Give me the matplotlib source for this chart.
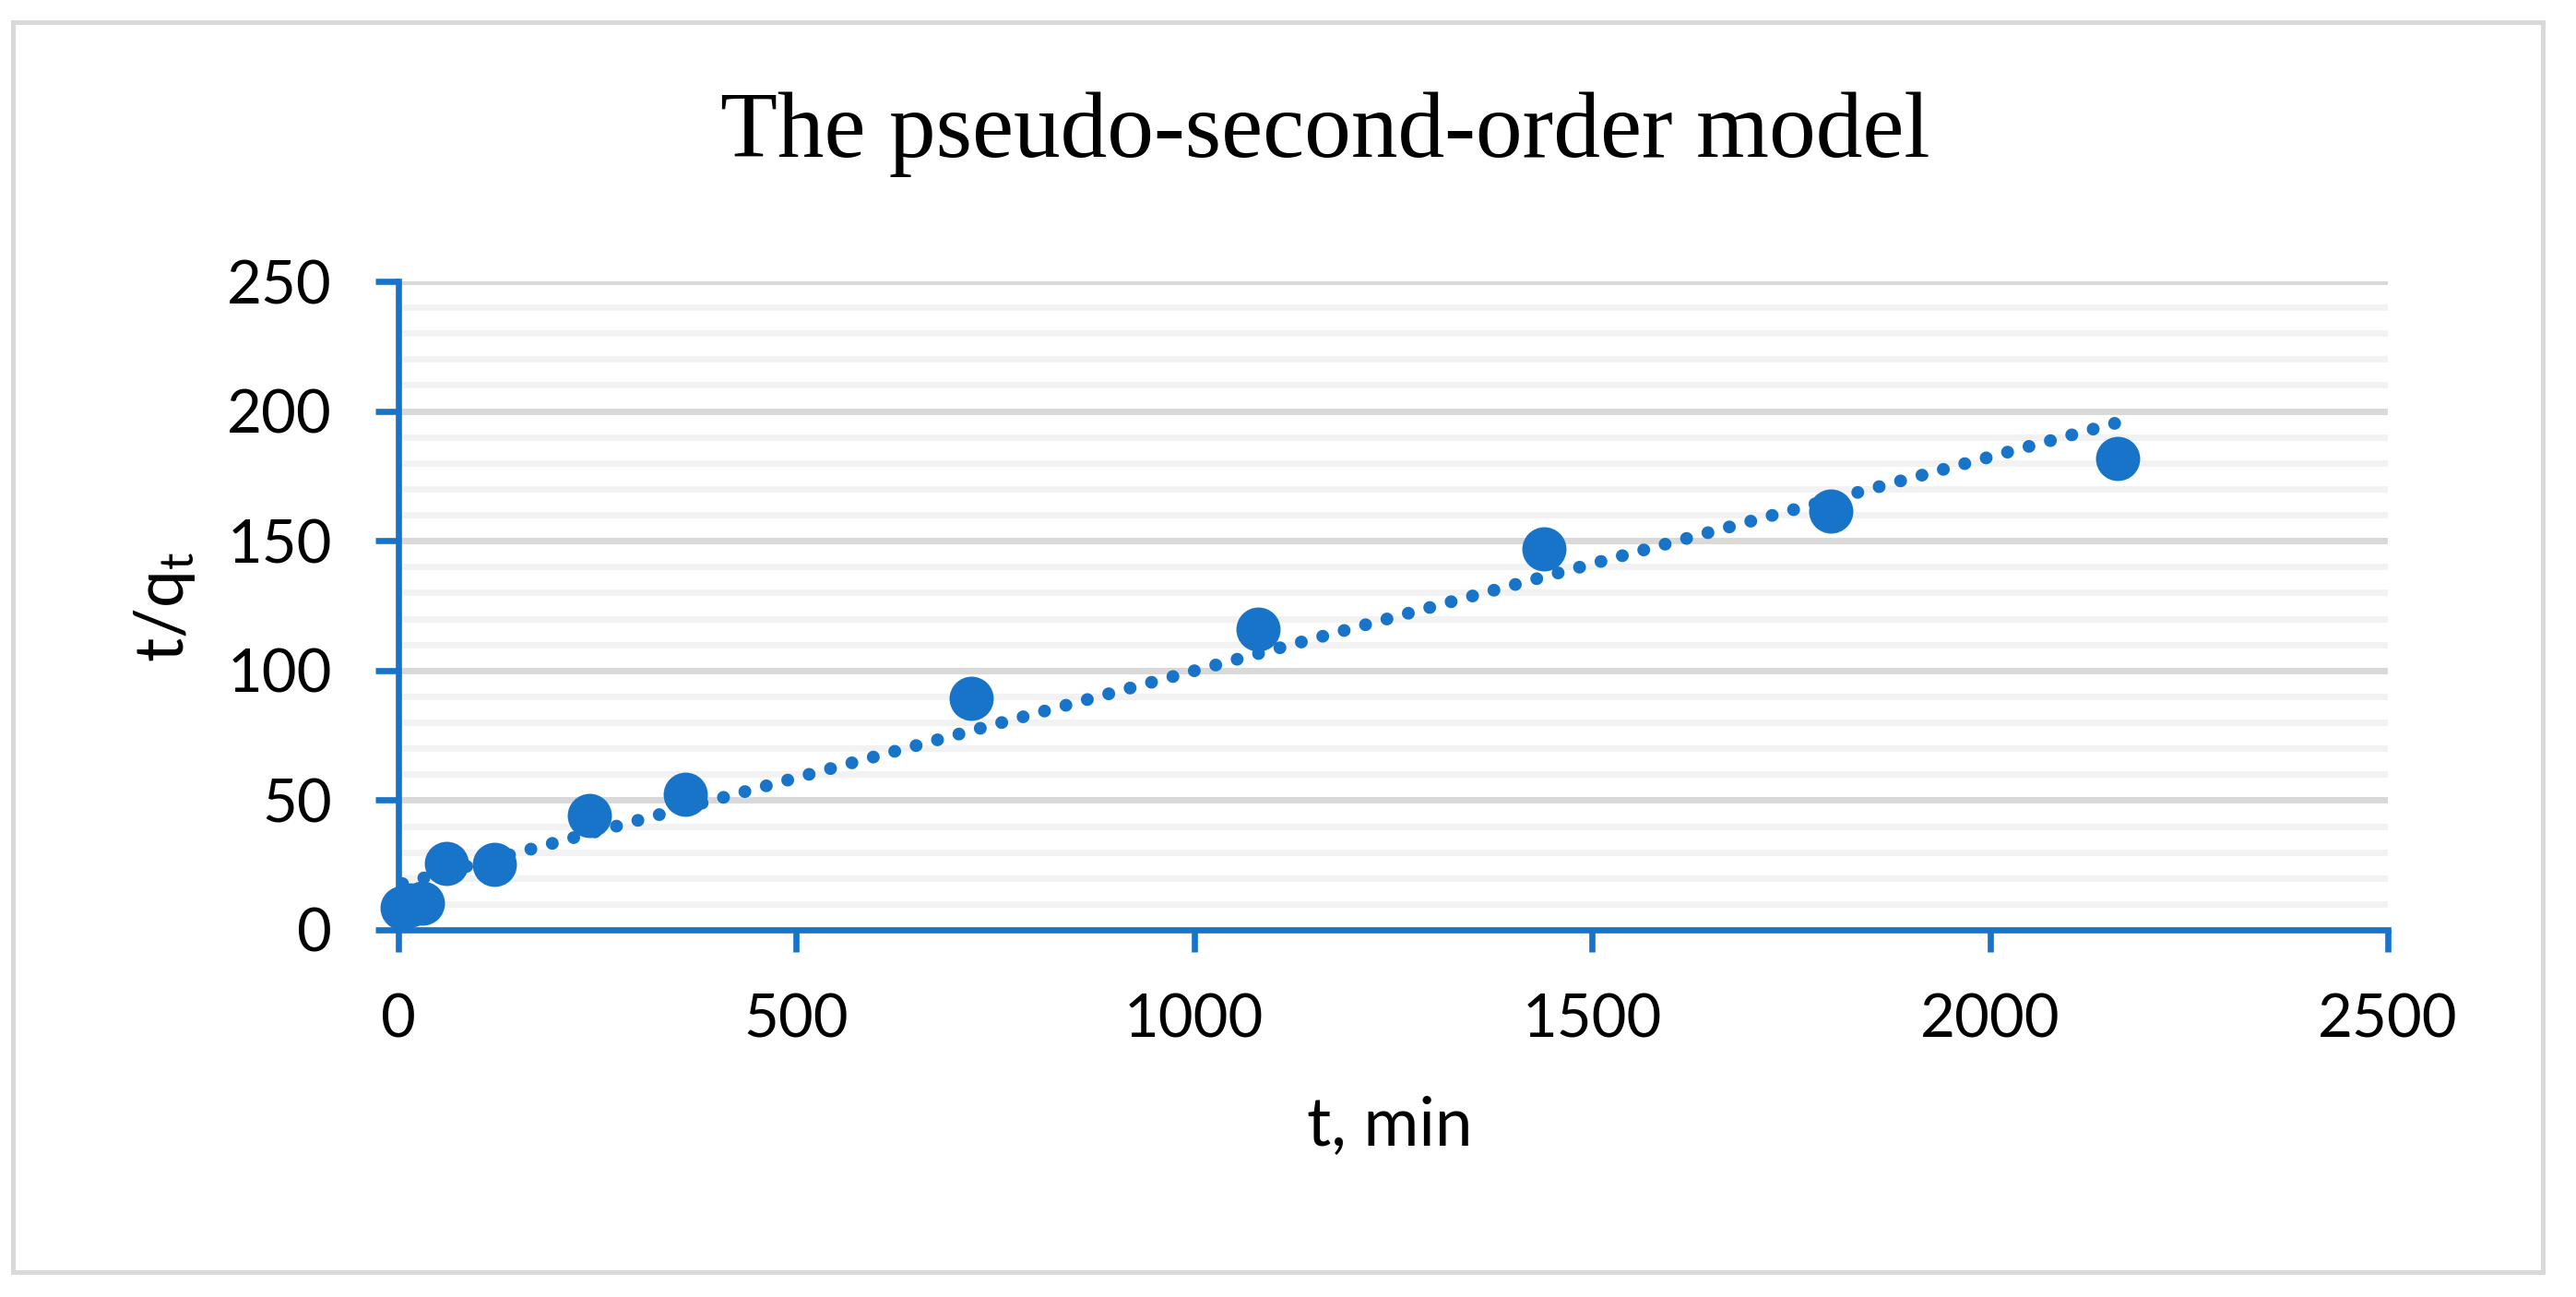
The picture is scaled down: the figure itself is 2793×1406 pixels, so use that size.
import numpy as np
import matplotlib
matplotlib.use("Agg")
import matplotlib.pyplot as plt
from matplotlib.ticker import MultipleLocator
from matplotlib.patches import Rectangle

# ---- data ----
t_min = [5, 15, 30, 60, 120, 240, 360, 720, 1080, 1440, 1800, 2160]
t_over_qt = [8.5, 9.5, 10.3, 25.6, 25.4, 44.1, 52.3, 89.3, 115.9, 146.9, 161.5, 181.7]
x_ticks = [0, 500, 1000, 1500, 2000, 2500]
y_ticks = [0, 50, 100, 150, 200, 250]
title = "The pseudo-second-order model"
x_label = "t, min"
y_label = r"$\mathregular{t/q_t}$"

BLUE = "#1874C8"
W, H = 2793, 1406
plt.rcParams["font.family"] = ["Lato", "DejaVu Sans"]
plt.rcParams["mathtext.default"] = "regular"

fig = plt.figure(figsize=(W / 100, H / 100), dpi=100)
fig.patch.set_facecolor("white")

# outer light-gray frame
fig.patches.append(Rectangle((14.3 / W, 1 - 1379 / H), (2756.7 - 14.3) / W, (1379 - 24.3) / H,
                             transform=fig.transFigure, fill=False,
                             edgecolor="#D9D9D9", linewidth=3.6, zorder=0))

left, right = 432 / W, 2589 / W
bottom, top = 1 - 1008 / H, 1 - 305 / H
ax = fig.add_axes([left, bottom, right - left, top - bottom])
ax.set_xlim(0, 2500)
ax.set_ylim(0, 250)
ax.set_xticks(x_ticks)
ax.set_yticks(y_ticks)
ax.yaxis.set_minor_locator(MultipleLocator(10))

for s in ("top", "right"):
    ax.spines[s].set_visible(False)
for s in ("left", "bottom"):
    ax.spines[s].set_color(BLUE)
    ax.spines[s].set_linewidth(4.8)
    ax.spines[s].set_zorder(3)

ax.tick_params(axis="both", which="major", direction="out", color=BLUE,
               width=4.8, labelsize=47, labelcolor="black")
ax.tick_params(axis="y", which="major", length=18, pad=34)
ax.tick_params(axis="x", which="major", length=17, pad=32)
ax.tick_params(axis="y", which="minor", length=0)

ax.set_axisbelow(True)
ax.grid(False)
ax.yaxis.grid(True, which="minor", color="#F2F2F2", linewidth=5)
ax.yaxis.grid(True, which="major", color="#D9D9D9", linewidth=5)

# trendline (linear fit of the data)
coef = np.polyfit(t_min, t_over_qt, 1)
xt = np.array([t_min[0], t_min[-1]])
ax.plot(xt, np.polyval(coef, xt), color=BLUE, linewidth=10,
        dashes=[0.01, 1.72], dash_capstyle="round", zorder=4)

ax.plot(t_min, t_over_qt, linestyle="none", marker="o", markersize=34.5,
        markerfacecolor=BLUE, markeredgewidth=0, clip_on=False, zorder=5)

fig.text(1437 / W, 1 - 170 / H, title, ha="center", va="baseline",
         family=["Liberation Serif", "DejaVu Serif"], fontsize=73)
fig.text(1507 / W, 1 - 1242 / H, x_label, ha="center", va="baseline", fontsize=52.5)
fig.text(178 / W, 1 - 658 / H, y_label, ha="center", va="center", rotation=90, fontsize=52.5)

fig.savefig("out.png", dpi=100, facecolor="white")
